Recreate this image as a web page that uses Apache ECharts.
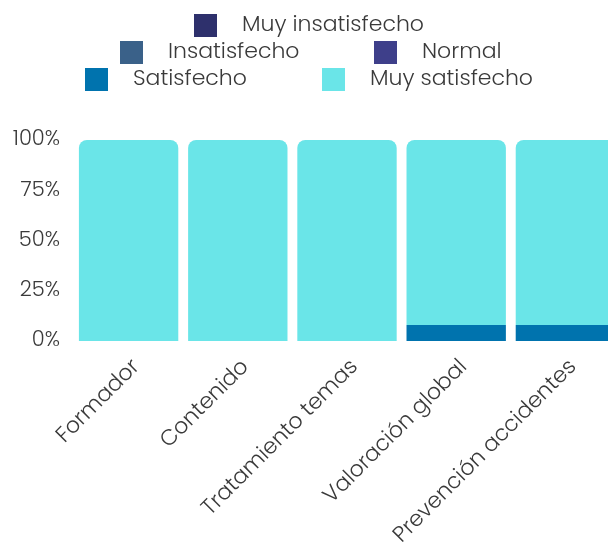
<!DOCTYPE html>
<html>
<head>
<meta charset="utf-8">
<script src="https://cdn.jsdelivr.net/npm/echarts@6/dist/echarts.min.js"></script>
<style>
  html, body { margin: 0; padding: 0; background: #fff; }
  #chart { width: 608px; height: 546px; }
</style>
</head>
<body>
<div id="chart"></div>
<script>
  var categories = ['Formador', 'Contenido', 'Tratamiento temas', 'Valoración global', 'Prevención accidentes']
  var seriesNames = ['Muy insatisfecho', 'Insatisfecho', 'Normal', 'Satisfecho', 'Muy satisfecho']
  var muyInsatisfecho = [0, 0, 0, 0, 0]
  var insatisfecho = [0, 0, 0, 0, 0]
  var normal = [0, 0, 0, 0, 0]
  var satisfecho = [0, 0, 0, 8, 8]
  var muySatisfecho = [100, 100, 100, 92, 92]
  var yTicks = [0, 25, 50, 75, 100]

  var colors = ['#2e306c', '#3a6189', '#3e3f8a', '#0073ae', '#6ae5e8']
  var values = [muyInsatisfecho, insatisfecho, normal, satisfecho, muySatisfecho]
  var font = 'Poppins, "Open Sans", sans-serif'
  var textColor = '#3a3a3a'

  // legend items are laid out one by one, like in the picture
  var legendPos = [
    {left: 194, top: 14},
    {left: 120, top: 41},
    {left: 374, top: 41},
    {left: 85, top: 68},
    {left: 322, top: 68}
  ]

  var chart = echarts.init(document.getElementById('chart'))
  chart.setOption({
    animation: false,
    legend: seriesNames.map(function (name, i) {
      return {
        data: [name],
        left: legendPos[i].left,
        top: legendPos[i].top,
        padding: 0,
        itemWidth: 23,
        itemHeight: 23,
        selectedMode: false,
        icon: 'rect',
        textStyle: {
          fontFamily: font,
          fontWeight: 300,
          fontSize: 22,
          color: textColor,
          padding: [0, 0, 0, 20]
        }
      }
    }),
    grid: {
      left: 74,
      width: 546,
      top: 140,
      bottom: 205,
      outerBoundsMode: 'none'
    },
    xAxis: {
      type: 'category',
      data: categories,
      axisLine: {show: false},
      axisTick: {show: false},
      axisLabel: {
        rotate: 45,
        margin: 15,
        interval: 0,
        verticalAlign: 'top',
        fontFamily: font,
        fontWeight: 300,
        fontSize: 22,
        color: textColor
      }
    },
    yAxis: {
      type: 'value',
      min: yTicks[0],
      max: yTicks[yTicks.length - 1],
      interval: 25,
      splitLine: {show: false},
      axisLine: {show: false},
      axisTick: {show: false},
      axisLabel: {
        margin: 14,
        formatter: '{value}%',
        fontFamily: font,
        fontWeight: 300,
        fontSize: 21,
        color: textColor
      }
    },
    series: seriesNames.map(function (name, i) {
      return {
        name: name,
        type: 'bar',
        stack: 'total',
        barCategoryGap: '9%',
        data: values[i],
        itemStyle: {
          color: colors[i],
          borderRadius: i === 4 ? [8, 8, 0, 0] : 0
        }
      }
    })
  })
</script>
</body>
</html>
